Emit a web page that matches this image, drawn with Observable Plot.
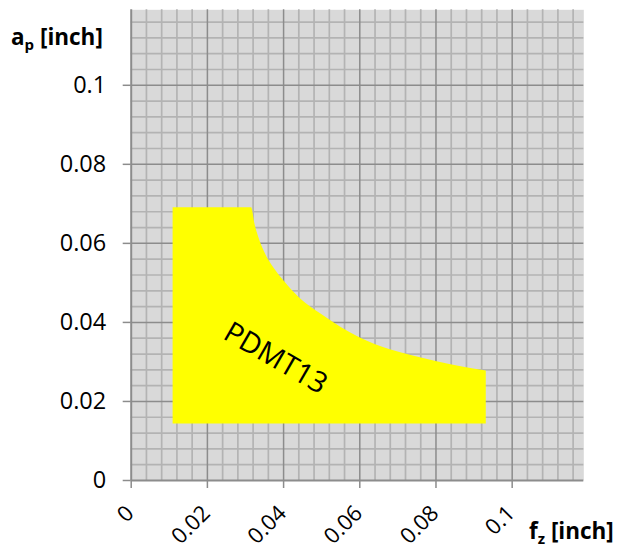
<!DOCTYPE html>
<html><head><meta charset="utf-8">
<script src="https://cdn.jsdelivr.net/npm/d3@7"></script>
<script src="https://cdn.jsdelivr.net/npm/@observablehq/plot@0.6"></script>
<style>body{margin:0;background:#fff;} #chart{width:621px;height:550px;}</style>
</head><body><div id="chart"></div>
<script>
// ---- data ----
const majorTicks = [0, 0.02, 0.04, 0.06, 0.08, 0.1];
const xTickLabels = ["0", "0.02", "0.04", "0.06", "0.08", "0.1"];
const yTickLabels = ["0", "0.02", "0.04", "0.06", "0.08", "0.1"];
const minorTicks = [0.004, 0.008, 0.012, 0.016, 0.024, 0.028, 0.032, 0.036, 0.044, 0.048, 0.052, 0.056,
  0.064, 0.068, 0.072, 0.076, 0.084, 0.088, 0.092, 0.096, 0.104, 0.108, 0.112, 0.116];
// PDMT13 working region: upper boundary (fz -> ap), flat bottom
const regionFz    = [0.011, 0.0316, 0.0325, 0.0335, 0.0350, 0.0375, 0.0400, 0.0444, 0.0500, 0.0550, 0.0600, 0.0640, 0.0680, 0.0740, 0.0800, 0.0866, 0.0932];
const regionApTop = [0.069, 0.069,  0.0648, 0.0615, 0.0578, 0.0537, 0.0506, 0.0460, 0.0420, 0.0388, 0.0361, 0.0344, 0.0331, 0.0315, 0.0301, 0.0288, 0.0277];
const regionApBottom = 0.0143;
const regionName = "PDMT13";
const labelFz = 0.0379, labelAp = 0.0309;
const xTitle = ["f", "z", " [inch]"];
const yTitle = ["a", "p", " [inch]"];

const region = regionFz.map((fz, i) => ({fz, top: regionApTop[i], bottom: regionApBottom}));

const plot = Plot.plot({
  width: 621, height: 550,
  marginLeft: 130.7, marginRight: 37.7, marginTop: 9.3, marginBottom: 70,
  x: {domain: [0, 0.1188], label: null},
  y: {domain: [0, 0.1191], label: null},
  style: {fontFamily: "'Open Sans', sans-serif", fontSize: "22px", color: "#000", background: "#fff"},
  marks: [
    Plot.frame({fill: "#d9d9d9", stroke: null}),
    Plot.ruleX(minorTicks, {stroke: "#b3b3b3", strokeWidth: 1.7}),
    Plot.ruleY(minorTicks, {stroke: "#b3b3b3", strokeWidth: 1.7}),
    Plot.ruleX(majorTicks.slice(1), {stroke: "#8c8c8c", strokeWidth: 1.5}),
    Plot.ruleY(majorTicks.slice(1), {stroke: "#8c8c8c", strokeWidth: 1.5}),
    Plot.areaY(region, {x: "fz", y1: "bottom", y2: "top", fill: "#ffff00", curve: "monotone-x"}),
    Plot.text([regionName], {x: labelFz, y: labelAp, text: d => d, rotate: 30, fontSize: 29, fill: "#000"}),
    Plot.ruleY([0], {stroke: "#8c8c8c", strokeWidth: 2}),
    Plot.ruleX([0], {stroke: "#8c8c8c", strokeWidth: 2}),
    Plot.axisY(majorTicks, {tickSize: 8, tickPadding: 17, stroke: "#8c8c8c", strokeWidth: 1.5,
      tickFormat: d => yTickLabels[majorTicks.indexOf(d)], fontSize: 23.5, fill: "#000"}),
    Plot.axisX(majorTicks, {tickSize: 8, stroke: "#8c8c8c", strokeWidth: 1.5, tickFormat: () => ""}),
    Plot.text(majorTicks, {x: d => d, frameAnchor: "bottom", dy: 29, dx: -1, rotate: -45, textAnchor: "end",
      lineAnchor: "middle", text: (d, i) => xTickLabels[i], fontSize: 22, fill: "#000"})
  ]
});
document.getElementById("chart").appendChild(plot);

const svg = d3.select(plot);
function title(parts, x, y) {
  const t = svg.append("text").attr("x", x).attr("y", y).attr("text-anchor", "start")
    .attr("font-family", "'Open Sans', sans-serif").attr("font-weight", "bold")
    .attr("font-size", 22.5).attr("fill", "#000");
  t.append("tspan").text(parts[0]);
  t.append("tspan").attr("font-size", 15).attr("dy", 5).text(parts[1]);
  t.append("tspan").attr("dy", -5).text(parts[2]);
}
title(yTitle, 11, 45);
title(xTitle, 529, 539);
</script>
</body></html>
